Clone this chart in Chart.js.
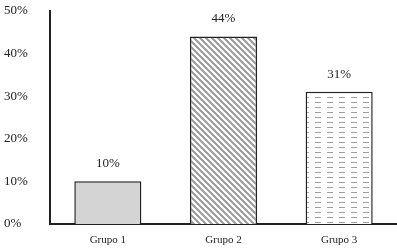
<!DOCTYPE html>
<html>
<head>
<meta charset="utf-8">
<script src="https://cdn.jsdelivr.net/npm/chart.js@4/dist/chart.umd.min.js"></script>
<style>
  body { margin: 0; background: #fff; }
  #wrap { width: 397px; height: 250px; }
</style>
</head>
<body>
<div id="wrap"><canvas id="chart" width="397" height="250"></canvas></div>
<script>
// Datos del gráfico
const grupos = ['Grupo 1', 'Grupo 2', 'Grupo 3'];
const porcentajes = [10, 44, 31];
const ticksY = [0, 10, 20, 30, 40, 50];

// Tramas de relleno
function tramaDiagonal() {
    const c = document.createElement('canvas');
    c.width = 6; c.height = 6;
    const g = c.getContext('2d');
    g.fillStyle = '#fff';
    g.fillRect(0, 0, 6, 6);
    g.strokeStyle = '#999';
    g.lineWidth = 2;
    g.beginPath();
    g.moveTo(-3, -3); g.lineTo(9, 9);
    g.moveTo(-3, 3); g.lineTo(3, 9);
    g.moveTo(3, -3); g.lineTo(9, 3);
    g.stroke();
    return g.createPattern(c, 'repeat');
}

function tramaGuiones() {
    const c = document.createElement('canvas');
    c.width = 12; c.height = 5;
    const g = c.getContext('2d');
    g.fillStyle = '#fff';
    g.fillRect(0, 0, 12, 5);
    g.fillStyle = '#a0a0a0';
    g.fillRect(3, 2, 6, 1);
    return g.createPattern(c, 'repeat');
}

const ctx = document.getElementById('chart').getContext('2d');

const etiquetas = {
    id: 'etiquetas',
    afterDatasetsDraw(chart) {
        const g = chart.ctx;
        const meta = chart.getDatasetMeta(0);
        g.save();
        g.font = '13px "Liberation Serif", "DejaVu Serif", serif';
        g.fillStyle = '#222';
        g.textAlign = 'center';
        g.textBaseline = 'bottom';
        meta.data.forEach((bar, i) => {
            g.fillText(porcentajes[i] + '%', bar.x, bar.y - 11);
        });
        g.restore();
    }
};

new Chart(ctx, {
    type: 'bar',
    data: {
        labels: grupos,
        datasets: [{
            data: porcentajes,
            backgroundColor: ['#d4d4d4', tramaDiagonal(), tramaGuiones()],
            borderColor: '#222',
            borderWidth: 1.5,
            borderSkipped: 'bottom',
            categoryPercentage: 1,
            barPercentage: 0.58
        }]
    },
    options: {
        responsive: false,
        animation: false,
        layout: { padding: { top: 4, left: 4, right: 0, bottom: 0 } },
        plugins: {
            legend: { display: false },
            tooltip: { enabled: false }
        },
        scales: {
            x: {
                grid: { display: false, drawTicks: false },
                border: { color: '#222', width: 2 },
                ticks: {
                    color: '#222',
                    padding: 10,
                    font: { family: '"Liberation Serif", serif', size: 11 }
                },
                afterFit: (scale) => { scale.height = 26; }
            },
            y: {
                min: 0,
                max: 50,
                afterBuildTicks: (scale) => { scale.ticks = ticksY.map(v => ({ value: v })); },
                afterFit: (scale) => { scale.width = 46; },
                grid: { display: false, drawTicks: false },
                border: { color: '#222', width: 2 },
                ticks: {
                    color: '#222',
                    crossAlign: 'far',
                    font: { family: '"Liberation Serif", serif', size: 13 },
                    callback: (v) => v + '%'
                }
            }
        }
    },
    plugins: [etiquetas]
});
</script>
</body>
</html>
